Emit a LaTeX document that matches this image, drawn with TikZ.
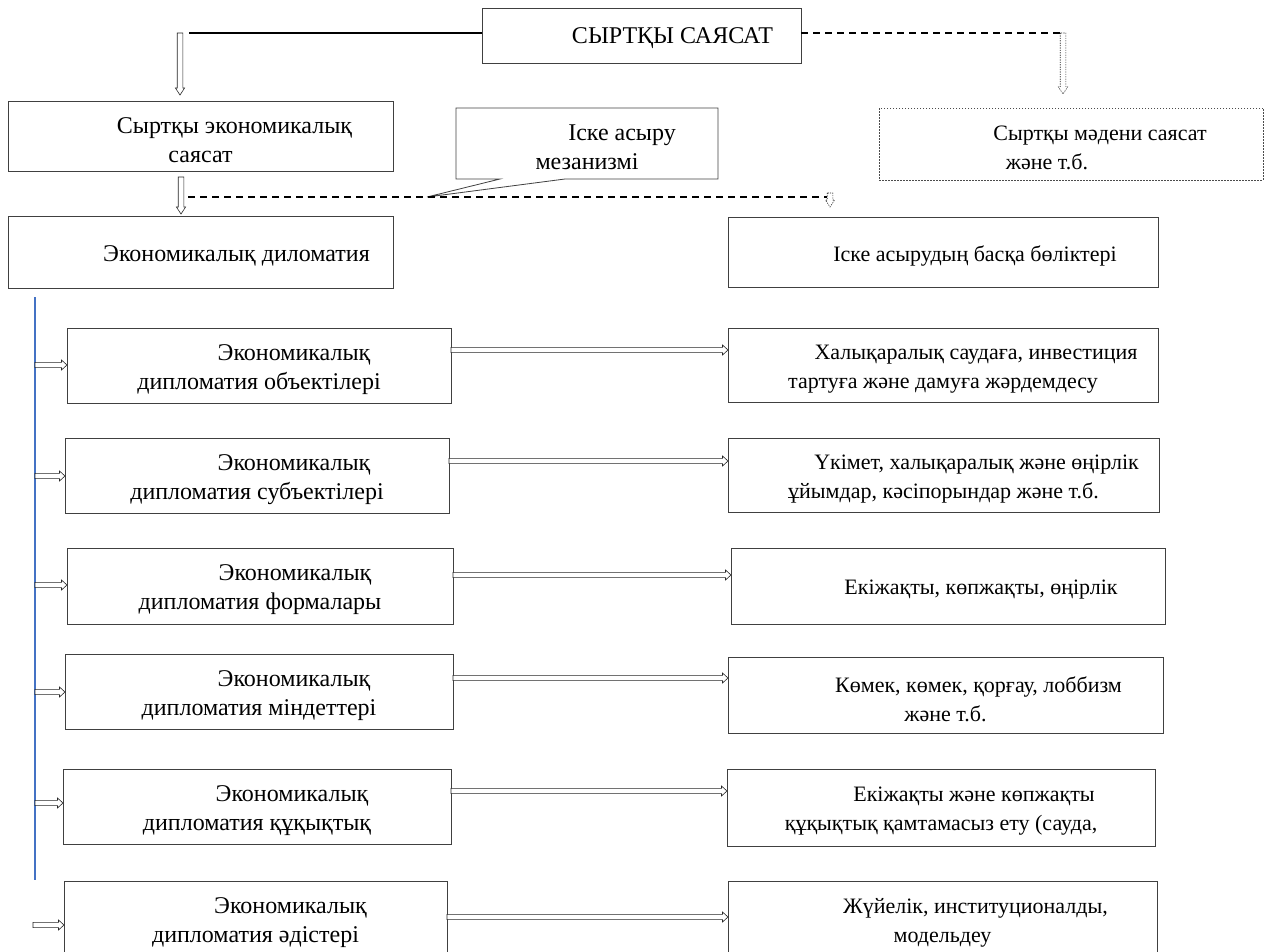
\documentclass[tikz,border=0pt]{standalone}
\usepackage{fontspec}
\setmainfont{Liberation Serif}
\usetikzlibrary{arrows.meta,calc}
\newcommand\ind[1]{\hspace*{#1pt}}
% hollow rightward arrow from #2 to #3 (same height)
\newcommand\hollowh[3][]{\draw[hollow,#1] let \p1=#2, \p2=#3 in
  (\x1,\y1+2.6pt) -- (\x2-5.5pt,\y1+2.6pt) -- (\x2-5.5pt,\y1+5pt) -- (\x2,\y1)
  -- (\x2-5.5pt,\y1-5pt) -- (\x2-5.5pt,\y1-2.6pt) -- (\x1,\y1-2.6pt) -- cycle;}
% hollow downward arrow from #2 to #3 (same x)
\newcommand\hollowv[3][]{\draw[hollow,#1] let \p1=#2, \p2=#3 in
  (\x1-2.8pt,\y1) -- (\x1-2.8pt,\y2+7pt) -- (\x1-4.6pt,\y2+7pt) -- (\x1,\y2)
  -- (\x1+4.6pt,\y2+7pt) -- (\x1+2.8pt,\y2+7pt) -- (\x1+2.8pt,\y1) -- cycle;}
\begin{document}
\begin{tikzpicture}[x=1pt,y=-1pt,
  lfont/.style={font=\fontsize{24}{29}\selectfont},
  rfont/.style={font=\fontsize{22}{29}\selectfont},
  ltxt/.style={lfont, align=center, inner sep=0pt, yshift=-4pt},
  rtxt/.style={rfont, align=center, inner sep=0pt, yshift=-4pt},
  box/.style={draw=black!75, line width=0.8pt, inner sep=0pt, outer sep=0pt, anchor=north west},
  dbox/.style={box, dash pattern=on 1.5pt off 1.5pt, draw=black!70},
  plainline/.style={line width=1.5pt},
  dashline/.style={line width=1.4pt, dash pattern=on 7pt off 5pt},
  hollow/.style={draw=black!85, line width=0.6pt, fill=white},
  dotted hollow/.style={hollow, dash pattern=on 1.2pt off 1.2pt},
  blueline/.style={draw={rgb,255:red,68;green,114;blue,196}, line width=1.8pt}
]
\useasboundingbox (0,0) rectangle (1269,952);

% top level
\node[box, minimum width=319, minimum height=55, label={[ltxt, yshift=1pt]center:{\ind{62}СЫРТҚЫ САЯСАТ}}] (top) at (482,8) {};
\coordinate (lcorner) at (180,33);
\coordinate (lstart) at (189,33);
\coordinate (rcorner) at (1063,33);
\draw[plainline] (top.west |- lcorner) -- (lstart);
\draw[dashline] (top.east |- rcorner) -- (rcorner);

\node[box, minimum width=385, minimum height=70, label={[ltxt]center:{\ind{68}Сыртқы экономикалық\\саясат}}] (ext) at (8,101) {};
\node[dbox, minimum width=384, minimum height=72, label={[rtxt]center:{\ind{58}Сыртқы мәдени саясат\\және т.б.\ind{48}}}] (cult) at (879,108) {};
\hollowv{(lcorner)}{($(lcorner |- ext.north)+(0,-6)$)}
\hollowv[dotted hollow]{(rcorner)}{($(rcorner |- cult.north)+(0,-14)$)}

% mechanism callout
\node[box, draw=none, minimum width=262, minimum height=71, label={[ltxt]center:{\ind{70}Іске асыру\\мезанизмі}}] (mech) at (456,108) {};
\coordinate (tip) at (427,197);
\draw[line width=0.8pt, draw=black!75] ($(mech.south west)+(44,0)$) -- (mech.south west) -- (mech.north west) -- (mech.north east) -- (mech.south east) -- ($(mech.south west)+(109,0)$) -- (tip) -- cycle;

\node[box, minimum width=385, minimum height=72, label={[ltxt]center:{\ind{72}Экономикалық диломатия}}] (dipl) at (8,216) {};
\node[box, minimum width=430, minimum height=70, label={[rtxt]center:{\ind{64}Іске асырудың басқа бөліктері}}] (other) at (728,217) {};
\coordinate (mid) at (181,177);
\hollowv{(mid)}{($(mid |- dipl.north)+(0,-2)$)}
\coordinate (dstart) at (188,197);
\coordinate (dend) at (830,197);
\draw[dashline] (dstart) -- (dend);
\hollowv[dotted hollow]{($(dend)+(0,-4)$)}{($(dend |- other.north)+(0,-10)$)}

% blue spine
\coordinate (vtop) at (35,297);
\coordinate (vbot) at (35,880);
\draw[blueline] (vtop) -- (vbot);

% rows
\node[box, minimum width=384, minimum height=75, label={[ltxt]center:{\ind{70}Экономикалық\\дипломатия объектілері}}] (l1) at (67,328) {};
\node[box, minimum width=430, minimum height=74, label={[rtxt]center:{\ind{66}Халықаралық саудаға, инвестиция\\тартуға және дамуға жәрдемдесу}}] (r1) at (728,328) {};
\node[box, minimum width=384, minimum height=75, label={[ltxt]center:{\ind{74}Экономикалық\\дипломатия субъектілері}}] (l2) at (65,438) {};
\node[box, minimum width=431, minimum height=74, label={[rtxt]center:{\ind{66}Үкімет, халықаралық және өңірлік\\ұйымдар, кәсіпорындар және т.б.}}] (r2) at (728,438) {};
\node[box, minimum width=386, minimum height=76, label={[ltxt]center:{\ind{70}Экономикалық\\дипломатия формалары}}] (l3) at (67,548) {};
\node[box, minimum width=434, minimum height=76, label={[rtxt]center:{\ind{66}Екіжақты, көпжақты, өңірлік}}] (r3) at (731,548) {};
\node[box, minimum width=388, minimum height=75, label={[ltxt]center:{\ind{70}Экономикалық\\дипломатия міндеттері}}] (l4) at (65,654) {};
\node[box, minimum width=435, minimum height=76, label={[rtxt]center:{\ind{66}Көмек, көмек, қорғау, лоббизм\\және т.б.}}] (r4) at (728,657) {};
\node[box, minimum width=388, minimum height=75, label={[ltxt]center:{\ind{70}Экономикалық\\дипломатия құқықтық}}] (l5) at (63,769) {};
\node[box, minimum width=428, minimum height=77, label={[rtxt]center:{\ind{66}Екіжақты және көпжақты\\құқықтық қамтамасыз ету (сауда,}}] (r5) at (727,769) {};
\node[box, minimum width=383, minimum height=76, label={[ltxt]center:{\ind{70}Экономикалық\\дипломатия әдістері}}] (l6) at (64,881) {};
\node[box, minimum width=429, minimum height=76, label={[rtxt]center:{\ind{66}Жүйелік, институционалды,\\модельдеу}}] (r6) at (728,881) {};

\hollowh{(vtop |- 0,365)}{(l1.west |- 0,365)}
\hollowh{(vtop |- 0,476)}{(l2.west |- 0,476)}
\hollowh{(vtop |- 0,585)}{(l3.west |- 0,585)}
\hollowh{(vtop |- 0,692)}{(l4.west |- 0,692)}
\hollowh{(vtop |- 0,803)}{(l5.west |- 0,803)}
\coordinate (l6start) at (33,925);
\hollowh{(l6start)}{(l6.west |- l6start)}

\hollowh{(l1.east |- 0,350)}{(r1.west |- 0,350)}
\hollowh{(l2.east |- 0,461)}{(r2.west |- 0,461)}
\hollowh{(l3.east |- 0,575)}{(r3.west |- 0,575)}
\hollowh{(l4.east |- 0,678)}{(r4.west |- 0,678)}
\hollowh{(l5.east |- 0,791)}{(r5.west |- 0,791)}
\hollowh{(l6.east |- 0,917)}{(r6.west |- 0,917)}
\end{tikzpicture}
\end{document}
